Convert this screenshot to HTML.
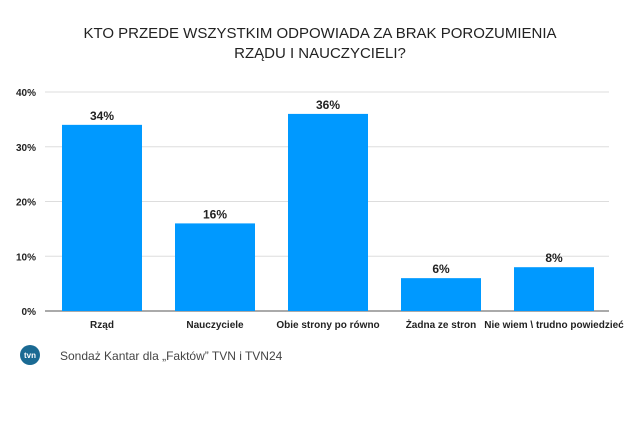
<!DOCTYPE html>
<html><head><meta charset="utf-8"><style>
body{margin:0;background:#fff;width:640px;height:426px;overflow:hidden;font-family:"Liberation Sans",sans-serif}
</style></head><body>
<svg width="640" height="426" xmlns="http://www.w3.org/2000/svg">
<text x="320" y="38" text-anchor="middle" font-size="15" fill="#222">KTO PRZEDE WSZYSTKIM ODPOWIADA ZA BRAK POROZUMIENIA</text>
<text x="320" y="58" text-anchor="middle" font-size="15" fill="#222">RZĄDU I NAUCZYCIELI?</text>
<g id="grid"></g><g id="bars"></g>
<g>
<circle cx="30" cy="355" r="10" fill="#1a6a93"/><text x="30" y="358" text-anchor="middle" font-size="8" fill="#fff" font-weight="bold">tvn</text>
</g>
<text x="60" y="360" font-size="12" fill="#444">Sondaż Kantar dla „Faktów” TVN i TVN24</text>
</svg>
<script>
const categories=["Rząd","Nauczyciele","Obie strony po równo","Żadna ze stron","Nie wiem \\ trudno powiedzieć"];
const values=[34,16,36,6,8];
const ticks=[0,10,20,30,40];
const NS="http://www.w3.org/2000/svg";
const y=v=>311-v*5.475;
const x0=45,band=113,bw=80,off=17;
const g=document.getElementById('grid'),b=document.getElementById('bars');
function mk(tag,attrs,txt){const e=document.createElementNS(NS,tag);for(const k in attrs)e.setAttribute(k,attrs[k]);if(txt!==undefined)e.textContent=txt;return e;}
ticks.forEach(t=>{
 const l=mk('line',{x1:x0,x2:609,y1:y(t),y2:y(t),stroke:t===0?'#555':'#ddd','stroke-width':1});
 
 
 g.appendChild(l);
 const tx=mk('text',{x:36,y:y(t)+4,'text-anchor':'end','font-size':10,'font-weight':'bold',fill:'#222'},t+'%');
 
 
 g.appendChild(tx);
});
categories.forEach((c,i)=>{
 const bx=x0+off+i*band;
 const r=mk('rect',{x:bx,y:y(values[i]),width:bw,height:y(0)-y(values[i]),fill:'#0099ff'});
 
 
 b.appendChild(r);
 const v=mk('text',{x:bx+bw/2,y:y(values[i])-5,'text-anchor':'middle','font-size':12,'font-weight':'bold',fill:'#222'},values[i]+'%');
 
 
 b.appendChild(v);
 const cl=mk('text',{x:bx+bw/2,y:328,'text-anchor':'middle','font-size':10,'font-weight':'bold',fill:'#222'},c);
 
 
 b.appendChild(cl);
});
</script>
</body></html>
